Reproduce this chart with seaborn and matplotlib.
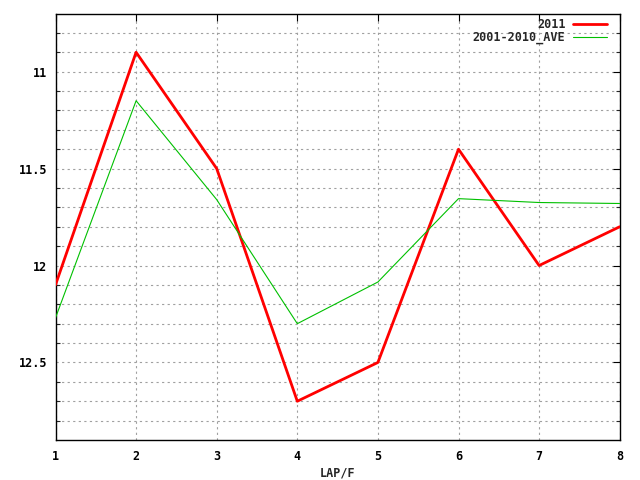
import matplotlib
matplotlib.use("Agg")
import matplotlib.pyplot as plt
import numpy as np
import pandas as pd
import seaborn as sns

laps = [1, 2, 3, 4, 5, 6, 7, 8]
times_2011 = [12.10, 10.90, 11.50, 12.70, 12.50, 11.40, 12.00, 11.80]
times_ave = [12.27, 11.15, 11.66, 12.30, 12.085, 11.655, 11.675, 11.68]
series_names = ["2011", "2001-2010_AVE"]
series_colors = ["#ff0000", "#00c000"]
y_labels = ["11", "11.5", "12", "12.5"]

df = pd.DataFrame({
    "lap": laps * 2,
    "time": times_2011 + times_ave,
    "series": [series_names[0]] * len(laps) + [series_names[1]] * len(laps),
})

sns.set_theme(style="white")
plt.rcParams["font.family"] = ["DejaVu Sans Mono"]
plt.rcParams["font.weight"] = "bold"
plt.rcParams["font.size"] = 8.5

fig = plt.figure(figsize=(6.4, 4.8), dpi=100)
ax = fig.add_axes([55.5 / 640, 1 - 440 / 480, (619.7 - 55.5) / 640, (440 - 13.5) / 480])

widths = {series_names[0]: 2.0, series_names[1]: 0.8}
for name, color in zip(series_names, series_colors):
    sub = df[df["series"] == name]
    sns.lineplot(data=sub, x="lap", y="time", color=color, lw=widths[name],
                 label=name, ax=ax, zorder=3)

ax.set_xlim(1, 8)
ax.set_ylim(12.9, 10.7)
ax.set_xticks(laps)
ax.set_xticklabels([str(v) for v in laps])
ax.set_yticks([float(v) for v in y_labels])
ax.set_yticklabels(y_labels)
ax.set_yticks(np.round(np.arange(10.8, 12.85, 0.1), 1), minor=True)

ax.grid(True, which="both", axis="y", color="#a0a0a0", linestyle=(0, (2, 3)), lw=0.8)
ax.grid(True, which="major", axis="x", color="#a0a0a0", linestyle=(0, (2, 3)), lw=0.8)

ax.tick_params(axis="x", which="major", direction="in", length=5, width=0.8,
               top=True, labelsize=8.5, pad=7, colors="black")
ax.tick_params(axis="y", which="major", direction="in", length=5, width=0.8,
               right=True, labelsize=8.5, pad=6, colors="black")
ax.tick_params(axis="y", which="minor", direction="in", length=3, width=0.8,
               left=True, right=True)
for s in ax.spines.values():
    s.set_color("black")
    s.set_linewidth(1.0)

ax.set_xlabel("LAP/F", fontsize=8.5, fontweight="bold", labelpad=3)
ax.set_ylabel("")

leg = ax.legend(loc="upper right", bbox_to_anchor=(1.0, 1.019), frameon=False,
                markerfirst=False, handlelength=2.9, handletextpad=0.65,
                handleheight=0.5, labelspacing=0.0, fontsize=8.5,
                borderaxespad=0.65)

fig.savefig("out.png", dpi=100)
